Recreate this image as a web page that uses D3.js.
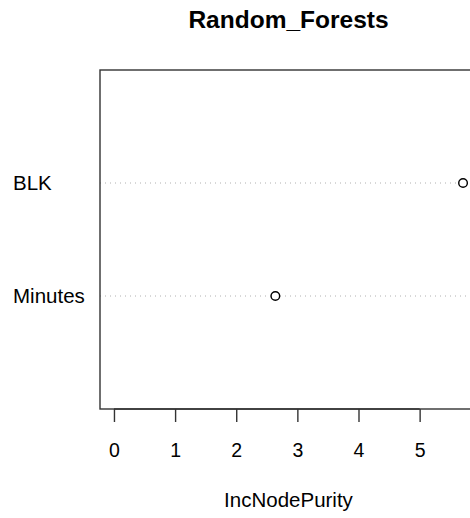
<!DOCTYPE html>
<html>
<head>
<meta charset="utf-8">
<script src="https://cdn.jsdelivr.net/npm/d3@7"></script>
<style>
  body { margin: 0; background: #fff; }
  text { font-family: "Liberation Sans", Arial, Helvetica, sans-serif; fill: #000; }
</style>
</head>
<body>
<div id="varimp"></div>
<script>
// variable importance values (bottom to top as in R dotchart)
var variables = ["Minutes", "BLK"];
var purity = [2.64, 5.71];
var xTicks = [0, 1, 2, 3, 4, 5];
var chartTitle = "Random_Forests";
var xLabel = "IncNodePurity";

// set the dimensions and margins of the graph
var margin = {top: 70, right: -7, bottom: 109, left: 100},
  width = 470 - margin.left - margin.right,
  height = 518 - margin.top - margin.bottom;

var svg = d3.select("#varimp")
    .append("svg")
      .attr("width", 470)
      .attr("height", 518)
    .append("g")
      .attr("transform", "translate(" + margin.left + "," + margin.top + ")");

// x scale: xlim = c(0, max) padded by 4% like R
var xmax = d3.max(purity);
var pad = xmax * 0.04;
var x = d3.scaleLinear()
    .domain([0 - pad, xmax + pad])
    .range([0, width]);

// y scale: positions 1..n inside 0..n+1
var y = d3.scaleLinear()
    .domain([0, variables.length + 1])
    .range([height, 0]);

// dotted guide lines
svg.append("g")
  .selectAll("line")
  .data(variables)
  .enter()
  .append("line")
    .attr("x1", 0)
    .attr("x2", width)
    .attr("y1", function (d, i) { return y(i + 1); })
    .attr("y2", function (d, i) { return y(i + 1); })
    .style("stroke", "#b0b0b0")
    .style("stroke-width", 1)
    .style("stroke-dasharray", "1,4");

// points
svg.append("g")
  .selectAll("circle")
  .data(purity)
  .enter()
  .append("circle")
    .attr("cx", function (d) { return x(d); })
    .attr("cy", function (d, i) { return y(i + 1); })
    .attr("r", 4.3)
    .style("fill", "#fff")
    .style("stroke", "#000")
    .style("stroke-width", 1.4);

// box
svg.append("rect")
    .attr("x", 0)
    .attr("y", 0)
    .attr("width", width)
    .attr("height", height)
    .style("fill", "none")
    .style("stroke", "#333")
    .style("stroke-width", 1.4);

// X axis (line only spans first to last tick, as in R)
var xAxis = svg.append("g")
    .attr("transform", "translate(0," + height + ")")
    .call(d3.axisBottom(x).tickValues(xTicks).tickSize(13).tickSizeOuter(0)
      .tickPadding(21).tickFormat(d3.format("d")));
xAxis.select(".domain")
    .attr("d", "M" + x(xTicks[0]) + ",0H" + x(xTicks[xTicks.length - 1]))
    .attr("stroke", "#333")
    .attr("stroke-width", 1.4);
xAxis.selectAll(".tick line")
    .attr("stroke", "#333")
    .attr("stroke-width", 1.4);
xAxis.selectAll(".tick text")
    .attr("font-family", "Liberation Sans, Arial, sans-serif")
    .style("font-size", "19.5px")
    .attr("fill", "#000");

// row labels, left aligned like mtext(adj = 0)
svg.append("g")
  .selectAll("text")
  .data(variables)
  .enter()
  .append("text")
    .attr("x", 13 - margin.left)
    .attr("y", function (d, i) { return y(i + 1) + 7; })
    .text(function (d) { return d; })
    .style("font-size", "20.5px");

// title
svg.append("text")
    .attr("text-anchor", "middle")
    .attr("x", width / 2)
    .attr("y", 28 - margin.top)
    .text(chartTitle)
    .style("font-size", "24.5px")
    .style("font-weight", "bold");

// x label
svg.append("text")
    .attr("text-anchor", "middle")
    .attr("x", width / 2)
    .attr("y", 507 - margin.top)
    .text(xLabel)
    .style("font-size", "20.5px");
</script>
</body>
</html>
